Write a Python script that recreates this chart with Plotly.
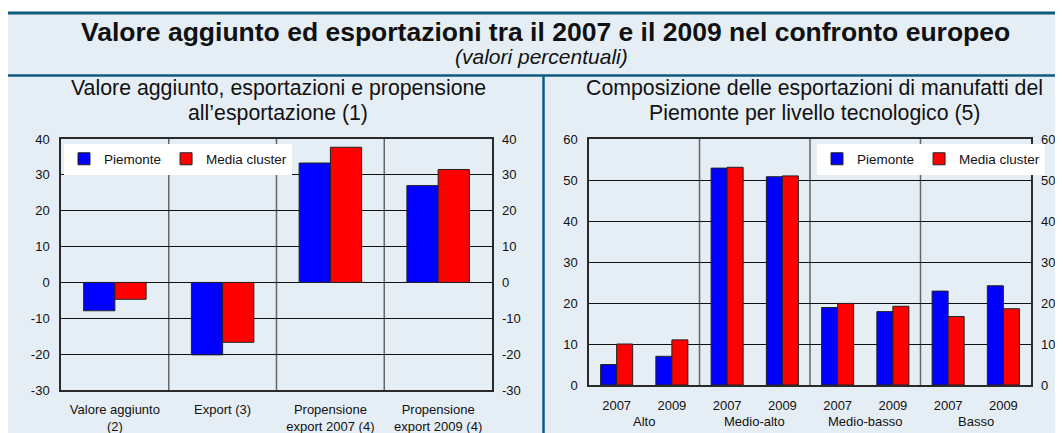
import plotly.graph_objects as go

# ---------------- data ----------------
series_names = ["Piemonte", "Media cluster"]
left_categories = ["Valore aggiunto<br>(2)", "Export (3)",
                   "Propensione<br>export 2007 (4)", "Propensione<br>export 2009 (4)"]
left_piemonte = [-7.9, -20.2, 33.3, 27.0]
left_media = [-4.7, -16.7, 37.7, 31.5]

groups = ["Alto", "Medio-alto", "Medio-basso", "Basso"]
years = ["2007", "2009"]
right_piemonte = [5.0, 7.0, 52.9, 50.8, 18.9, 17.9, 22.9, 24.2]
right_media = [10.0, 11.0, 53.1, 51.0, 19.9, 19.2, 16.7, 18.6]

left_ticks = [-30, -20, -10, 0, 10, 20, 30, 40]
right_ticks = [0, 10, 20, 30, 40, 50, 60]

title = "Valore aggiunto ed esportazioni tra il 2007 e il 2009 nel confronto europeo"
subtitle = "(valori percentuali)"
left_title = ["Valore aggiunto, esportazioni e propensione", "all\u2019esportazione (1)"]
right_title = ["Composizione delle esportazioni di manufatti del",
               "Piemonte per livello tecnologico (5)"]

# ---------------- style ----------------
OFF = 8  # page body margin
W, H = 1055, 425
FONT = "Liberation Sans, Arial, sans-serif"
BLUE, RED = "#0000ff", "#ff0000"
BG = "#e6eef5"
TEAL = "#0f5b80"
TXT = "#111111"

def px_x(v):
    return (v - OFF) / W

def px_y(v):
    return 1 - (v - OFF) / H

right_x = [f"{g} {y}" for g in groups for y in years]
right_ticktext = [y for g in groups for y in years]
left_ticktext = [str(v) for v in left_ticks]
right_ticktext_y = [str(v) for v in right_ticks]

fig = go.Figure()
marker_line = dict(color="#222222", width=1)
fig.add_trace(go.Bar(x=left_categories, y=left_piemonte, name=series_names[0],
                     marker=dict(color=BLUE, line=marker_line), xaxis="x", yaxis="y",
                     legend="legend"))
fig.add_trace(go.Bar(x=left_categories, y=left_media, name=series_names[1],
                     marker=dict(color=RED, line=marker_line), xaxis="x", yaxis="y",
                     legend="legend"))
fig.add_trace(go.Bar(x=right_x, y=right_piemonte, name=series_names[0],
                     marker=dict(color=BLUE, line=marker_line), xaxis="x2", yaxis="y3",
                     legend="legend2"))
fig.add_trace(go.Bar(x=right_x, y=right_media, name=series_names[1],
                     marker=dict(color=RED, line=marker_line), xaxis="x2", yaxis="y3",
                     legend="legend2"))
# invisible helper traces so the mirrored right-hand axes get drawn
fig.add_trace(go.Scatter(x=left_categories, y=left_piemonte, xaxis="x", yaxis="y2",
                         mode="markers", marker=dict(opacity=0), showlegend=False,
                         hoverinfo="skip"))
fig.add_trace(go.Scatter(x=right_x, y=right_piemonte, xaxis="x2", yaxis="y4",
                         mode="markers", marker=dict(opacity=0), showlegend=False,
                         hoverinfo="skip"))

tickfont = dict(family=FONT, size=13, color=TXT)
frame = dict(showline=True, linecolor="#2a2a2a", linewidth=1.5, mirror=True)

ydom = [px_y(390), px_y(139)]
ydom2 = [px_y(385), px_y(139)]
xdom = [px_x(61), px_x(492)]
xdom2 = [px_x(589), px_x(1031)]

legend_common = dict(orientation="h", xanchor="left", yanchor="middle",
                     bgcolor="white", borderwidth=0,
                     font=dict(family=FONT, size=13.5, color=TXT), itemwidth=30,
                     traceorder="normal")

fig.update_layout(
    width=W, height=H, autosize=False,
    margin=dict(l=0, r=0, t=0, b=0, pad=0, autoexpand=False),
    paper_bgcolor="white",
    plot_bgcolor="white",
    barmode="group", bargap=0.42, bargroupgap=0,
    font=dict(family=FONT, color=TXT),
    xaxis=dict(domain=xdom, anchor="y", type="category", tickfont=tickfont,
               showgrid=False, ticks="", ticklabelstandoff=7, automargin=False,
               **frame),
    yaxis=dict(domain=ydom, anchor="x", range=[-30, 40], tickvals=left_ticks,
               ticktext=left_ticktext,
               tickfont=tickfont, showgrid=True, gridcolor="#111111", gridwidth=1,
               zeroline=True, zerolinecolor="#111111", zerolinewidth=1,
               ticks="", ticklabelstandoff=7, automargin=False, **frame),
    yaxis2=dict(domain=ydom, anchor="x", overlaying="y", side="right",
                range=[-30, 40], tickvals=left_ticks, ticktext=left_ticktext,
                tickfont=tickfont,
                showgrid=False, zeroline=False, ticks="", ticklabelstandoff=9,
                showline=False, automargin=False),
    xaxis2=dict(domain=xdom2, anchor="y3", type="category", tickfont=tickfont,
                tickvals=right_x, ticktext=right_ticktext,
                showgrid=False, ticks="", ticklabelstandoff=8, automargin=False,
                **frame),
    yaxis3=dict(domain=ydom2, anchor="x2", range=[0, 60], tickvals=right_ticks,
                ticktext=right_ticktext_y,
                tickfont=tickfont, showgrid=True, gridcolor="#111111", gridwidth=1,
                zeroline=False, ticks="", ticklabelstandoff=7, automargin=False,
                **frame),
    yaxis4=dict(domain=ydom2, anchor="x2", overlaying="y3", side="right",
                range=[0, 60], tickvals=right_ticks, ticktext=right_ticktext_y,
                tickfont=tickfont,
                showgrid=False, zeroline=False, ticks="", ticklabelstandoff=9,
                showline=False, automargin=False),
    legend=dict(x=px_x(64), y=px_y(159), **legend_common),
    legend2=dict(x=px_x(817), y=px_y(159), **legend_common),
    showlegend=True,
)

shapes = []
# light blue background panel
shapes.append(dict(type="rect", xref="paper", yref="paper", x0=0, x1=1,
                   y0=0, y1=px_y(13), fillcolor=BG, line=dict(width=0), layer="below"))
# teal rules
shapes.append(dict(type="line", xref="paper", yref="paper", x0=0, x1=1,
                   y0=px_y(13), y1=px_y(13), line=dict(color=TEAL, width=3)))
shapes.append(dict(type="line", xref="paper", yref="paper", x0=0, x1=1,
                   y0=px_y(75.5), y1=px_y(75.5), line=dict(color=TEAL, width=2.5)))
shapes.append(dict(type="line", xref="paper", yref="paper", x0=px_x(543.5), x1=px_x(543.5),
                   y0=0, y1=px_y(75.5), line=dict(color=TEAL, width=2.5)))
# vertical category separators
for i in range(len(left_categories) - 1):
    shapes.append(dict(type="line", xref="x", yref="y domain", x0=i + 0.5, x1=i + 0.5,
                       y0=0, y1=1, line=dict(color="#666666", width=1.5), layer="below"))
for i in range(len(groups) - 1):
    xv = (i + 1) * len(years) - 0.5
    shapes.append(dict(type="line", xref="x2", yref="y3 domain", x0=xv, x1=xv,
                       y0=0, y1=1, line=dict(color="#666666", width=1.5), layer="below"))
fig.update_layout(shapes=shapes)

def label(text, x, y, size, **kw):
    return dict(text=text, xref="paper", yref="paper", x=px_x(x), y=px_y(y),
                xanchor="center", yanchor="middle", showarrow=False,
                font=dict(family=FONT, size=size, color=kw.get("color", TXT)))

annotations = [
    label(f"<b>{title}</b>", 545, 32, 26.5, color="#111111"),
    label(f"<i>{subtitle}</i>", 541, 57, 21),
    label(left_title[0], 278, 88, 21.3),
    label(left_title[1], 278, 113, 21.3),
    label(right_title[0], 814, 88, 21.3),
    label(right_title[1], 814, 113, 21.3),
]
for i, g in enumerate(groups):
    annotations.append(dict(text=g, xref="x2", yref="paper",
                            x=i * len(years) + (len(years) - 1) / 2, y=px_y(421),
                            xanchor="center", yanchor="middle", showarrow=False,
                            font=tickfont))
fig.update_layout(annotations=annotations)

fig.write_html("out.html")
